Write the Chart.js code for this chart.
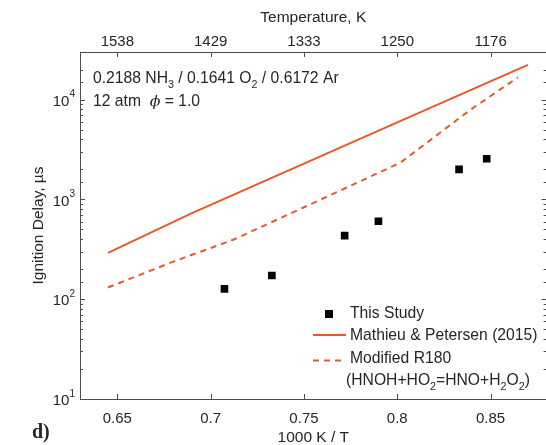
<!DOCTYPE html>
<html>
<head>
<meta charset="utf-8">
<script src="https://cdn.jsdelivr.net/npm/chart.js@4/dist/chart.umd.min.js"></script>
<style>
  html, body { margin: 0; padding: 0; background: #fff; overflow: hidden; }
  #wrap { width: 546px; height: 445px; overflow: hidden; }
</style>
</head>
<body>
<div id="wrap"><canvas id="ignitionChart" width="552" height="445"></canvas></div>
<script>
// values
const studyX = [0.7074, 0.7328, 0.7718, 0.7899, 0.8331, 0.8479];
const studyY = [127, 173, 434, 604, 2000, 2553];
const mathieuX = [0.645, 0.69, 0.75, 0.80, 0.87];
const mathieuY = [291, 728, 2280, 5920, 22300];
const modifiedX = [0.645, 0.68, 0.7124, 0.7629, 0.8016, 0.8395, 0.8646];
const modifiedY = [131, 238, 396, 1077, 2330, 7980, 16700];
const xTicks = [0.65, 0.7, 0.75, 0.8, 0.85];

const orange = '#E65A2A';
const axisColor = '#4d4d4d';
const textColor = '#262626';
const fontFamily = '"Liberation Sans", Arial, Helvetica, sans-serif';
const textSize = 15.7;

Chart.defaults.font.family = fontFamily;
Chart.defaults.font.size = 15;
Chart.defaults.color = textColor;

const toPoints = (xs, ys) => xs.map((x, i) => ({ x: x, y: ys[i] }));

// draws text with subscripts: parts = [[text, 'sub'|'it'|undefined], ...]
function richText(ctx, parts, x, y, size) {
  let cx = x;
  parts.forEach(([txt, kind]) => {
    if (kind === 'sub') {
      ctx.font = `${(size * 0.68).toFixed(1)}px ${fontFamily}`;
      ctx.fillText(txt, cx, y + size * 0.38);
    } else if (kind === 'it') {
      ctx.font = `italic ${size}px "DejaVu Serif", "Liberation Serif", serif`;
      ctx.fillText(txt, cx, y);
    } else {
      ctx.font = `${size}px ${fontFamily}`;
      ctx.fillText(txt, cx, y);
    }
    cx += ctx.measureText(txt).width;
  });
  return cx;
}

const decorations = {
  id: 'decorations',
  afterDraw(chart) {
    const { ctx, chartArea: a, scales: { x, y } } = chart;
    ctx.save();
    ctx.strokeStyle = axisColor;
    ctx.lineWidth = 1;
    ctx.strokeRect(Math.round(a.left) + 0.5, Math.round(a.top) + 0.5,
      Math.round(a.right - a.left), Math.round(a.bottom - a.top));

    ctx.beginPath();
    x.ticks.forEach(t => {
      const px = Math.round(x.getPixelForValue(t.value)) + 0.5;
      ctx.moveTo(px, a.bottom); ctx.lineTo(px, a.bottom - 5);
      ctx.moveTo(px, a.top); ctx.lineTo(px, a.top + 5);
    });
    y.ticks.forEach(t => {
      const py = Math.round(y.getPixelForValue(t.value)) + 0.5;
      const lg = Math.log10(t.value);
      const len = Math.abs(lg - Math.round(lg)) < 1e-9 ? 5 : 3;
      ctx.moveTo(a.left, py); ctx.lineTo(a.left + len, py);
      ctx.moveTo(a.right, py); ctx.lineTo(a.right - len, py);
    });
    ctx.stroke();

    // y tick labels 10^n
    ctx.fillStyle = textColor;
    ctx.textBaseline = 'middle';
    ctx.textAlign = 'left';
    y.ticks.forEach(t => {
      const lg = Math.log10(t.value);
      if (Math.abs(lg - Math.round(lg)) > 1e-9) return;
      const py = y.getPixelForValue(t.value);
      ctx.font = `15px ${fontFamily}`;
      const wBase = ctx.measureText('10').width;
      ctx.font = `10px ${fontFamily}`;
      const exp = String(Math.round(lg));
      const wExp = ctx.measureText(exp).width;
      const x0 = a.left - 5 - wBase - wExp;
      ctx.font = `15px ${fontFamily}`;
      ctx.fillText('10', x0, py + 2);
      ctx.font = `10px ${fontFamily}`;
      ctx.fillText(exp, x0 + wBase, py - 5);
    });

    // annotation text
    richText(ctx, [['0.2188 NH'], ['3', 'sub'], [' / 0.1641 O'], ['2', 'sub'], [' / 0.6172 Ar']], 93, 79, textSize);
    richText(ctx, [['12 atm  '], ['\u03D5', 'it'], [' = 1.0']], 93, 102, textSize);

    // legend
    const ds = chart.data.datasets;
    const lx = 350;
    ctx.fillStyle = ds[0].backgroundColor;
    ctx.fillRect(325, 310, 8, 8);
    ctx.strokeStyle = ds[1].borderColor;
    ctx.lineWidth = ds[1].borderWidth;
    ctx.beginPath(); ctx.moveTo(313, 335); ctx.lineTo(346, 335); ctx.stroke();
    ctx.setLineDash(ds[2].borderDash);
    ctx.beginPath(); ctx.moveTo(313, 360.5); ctx.lineTo(346, 360.5); ctx.stroke();
    ctx.setLineDash([]);
    ctx.fillStyle = textColor;
    richText(ctx, [[ds[0].label]], lx, 314, textSize);
    richText(ctx, [[ds[1].label]], lx, 336, textSize);
    richText(ctx, [['Modified R180']], lx, 359, textSize);
    richText(ctx, [['(HNOH+HO'], ['2', 'sub'], ['=HNO+H'], ['2', 'sub'], ['O'], ['2', 'sub'], [')']], lx - 4, 381, textSize);

    // panel letter
    ctx.font = `bold 20px "Liberation Serif", "Times New Roman", serif`;
    ctx.fillText('d)', 32, 433);
    ctx.restore();
  }
};

new Chart(document.getElementById('ignitionChart').getContext('2d'), {
  type: 'scatter',
  data: {
    datasets: [{
      label: 'This Study',
      data: toPoints(studyX, studyY),
      pointStyle: 'rect',
      pointRadius: 5.4,
      borderWidth: 0,
      backgroundColor: '#000',
      borderColor: '#000',
      showLine: false
    }, {
      label: 'Mathieu & Petersen (2015)',
      data: toPoints(mathieuX, mathieuY),
      showLine: true,
      borderColor: orange,
      borderWidth: 2,
      pointRadius: 0,
      tension: 0
    }, {
      label: 'Modified R180 (HNOH+HO2=HNO+H2O2)',
      data: toPoints(modifiedX, modifiedY),
      showLine: true,
      borderColor: orange,
      borderWidth: 2,
      borderDash: [6, 5],
      pointRadius: 0,
      tension: 0
    }]
  },
  options: {
    responsive: false,
    animation: false,
    layout: { padding: { left: 0, right: 2, top: 0, bottom: 0 } },
    plugins: { legend: { display: false }, tooltip: { enabled: false } },
    scales: {
      x: {
        type: 'linear',
        position: 'bottom',
        min: 0.63,
        max: 0.88,
        afterBuildTicks: s => { s.ticks = xTicks.map(v => ({ value: v })); },
        ticks: { padding: 11, maxRotation: 0, callback: v => String(v) },
        grid: { display: false, drawTicks: false },
        border: { display: false },
        title: { display: true, text: '1000 K / T', font: { size: 15.5 }, padding: { top: 5, bottom: -2 } },
        afterFit: s => { s.height = 46; }
      },
      xTop: {
        type: 'linear',
        position: 'top',
        min: 0.63,
        max: 0.88,
        afterBuildTicks: s => { s.ticks = xTicks.map(v => ({ value: v })); },
        ticks: { padding: 1, maxRotation: 0, callback: v => String(Math.round(1000 / v)) },
        grid: { display: false, drawTicks: false },
        border: { display: false },
        title: { display: true, text: 'Temperature, K', font: { size: 15.5 }, padding: { top: 8, bottom: 0 } },
        afterFit: s => { s.height = 52; }
      },
      y: {
        type: 'logarithmic',
        min: 10,
        max: 30000,
        ticks: { display: false },
        grid: { display: false, drawTicks: false },
        border: { display: false },
        title: { display: true, text: 'Ignition Delay, \u00B5s', font: { size: 15.5 }, padding: { top: 29, bottom: 0 } },
        afterFit: s => { s.width = 80; }
      }
    }
  },
  plugins: [decorations]
});
</script>
</body>
</html>
